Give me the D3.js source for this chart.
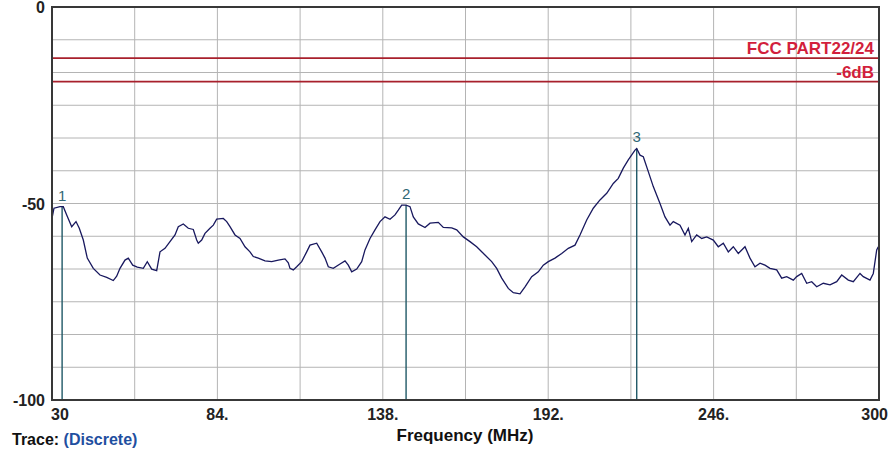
<!DOCTYPE html>
<html><head><meta charset="utf-8">
<script src="https://cdn.jsdelivr.net/npm/d3@7"></script>
<style>html,body{margin:0;padding:0;background:#fff;overflow:hidden}</style>
</head><body>
<svg id="c" width="894" height="449"></svg>
<script>
const freqMHz = [30.0,30.65,32.61,33.69,34.80,36.43,37.84,38.91,40.22,41.52,43.48,45.67,47.86,50.01,51.12,52.20,53.83,54.91,56.35,57.85,59.81,61.11,62.55,64.18,65.26,66.89,68.52,70.16,71.23,72.87,74.50,76.13,77.24,77.76,78.87,79.95,81.58,82.66,83.77,85.93,87.04,88.11,89.75,91.38,93.01,94.64,95.72,97.35,99.54,101.73,103.88,106.07,107.15,107.70,108.78,109.89,111.52,113.15,114.23,116.42,118.05,119.13,120.21,121.84,124.03,125.66,126.74,127.85,129.48,131.11,132.19,133.82,135.45,137.09,138.72,140.35,141.98,143.06,144.17,145.6,146.88,147.96,149.59,151.78,153.41,156.12,157.75,160.50,162.13,164.28,166.47,168.65,171.36,173.55,175.18,176.82,178.97,180.61,182.79,184.43,186.61,188.77,190.40,192.03,194.22,196.41,198.56,200.75,202.38,204.57,206.72,208.91,211.10,213.25,214.88,216.52,218.15,220.34,220.89,221.97,223.05,224.68,226.31,228.50,230.13,231.76,232.84,235.03,236.66,237.74,238.85,240.48,242.12,243.75,245.90,247.53,249.17,250.80,252.43,254.06,256.25,257.88,259.51,261.15,262.78,264.41,266.60,268.23,269.86,272.02,273.13,274.76,276.40,278.03,279.66,281.82,284.01,286.19,287.82,289.98,291.61,293.80,294.87,297.06,298.14,299.25,299.78];
const levelDBm = [-53.8,-51.2,-50.8,-50.8,-52.9,-55.9,-54.6,-56.3,-59.3,-63.9,-66.5,-68.2,-68.8,-69.6,-68.5,-66.5,-64.4,-63.9,-65.7,-66.2,-66.5,-64.8,-66.7,-67.1,-62.3,-61.4,-59.7,-58.0,-55.9,-55.2,-56.3,-56.6,-59.3,-60.1,-59.3,-57.6,-56.3,-55.5,-54.0,-53.8,-54.6,-55.9,-58.0,-58.9,-61.0,-62.3,-63.5,-63.9,-64.6,-64.8,-64.4,-64.1,-65.1,-66.5,-66.9,-66.1,-64.8,-62.3,-60.6,-60.1,-62.3,-63.9,-66.1,-66.5,-65.4,-64.6,-65.7,-67.4,-66.7,-64.8,-61.8,-58.9,-56.7,-54.6,-53.4,-54.0,-52.9,-51.7,-50.4,-50.4,-50.8,-53.4,-55.2,-56.1,-55.0,-54.8,-56.1,-56.2,-56.7,-58.5,-59.7,-61.0,-63.1,-64.8,-66.5,-69.0,-71.6,-72.7,-73.0,-71.2,-68.6,-67.4,-65.7,-64.8,-63.9,-62.7,-61.4,-60.6,-58.0,-54.2,-51.2,-49.1,-47.4,-44.9,-43.6,-41.0,-38.9,-36.4,-36.0,-37.7,-38.1,-41.9,-45.7,-50.0,-53.4,-55.5,-54.6,-55.5,-58.0,-56.3,-59.7,-58.0,-58.9,-58.5,-59.3,-61.0,-60.1,-62.3,-61.0,-62.7,-61.0,-63.9,-66.1,-65.2,-65.7,-66.5,-66.9,-69.0,-68.6,-69.5,-68.6,-67.8,-70.3,-69.9,-71.2,-70.3,-70.7,-69.9,-68.2,-69.5,-69.9,-67.8,-68.6,-69.5,-67.8,-61.8,-61.0];

const markerLabels = ["1","2","3"];
const markerFreq = [33.3,145.6,220.9];
const markerLevel = [-50.8,-50.4,-36.0];

const limitLevels = [-13,-19];
const limitLabels = ["FCC PART22/24","-6dB"];

const xTickValues = [30,84,138,192,246,300];
const xTickLabels = ["30","84.","138.","192.","246.","300"];
const yTickValues = [0,-50,-100];
const yTickLabels = ["0","-50","-100"];
const xTitle = "Frequency (MHz)";

const svg = d3.select("#c");
const L=52,R=879,T=7,B=400;
const x = d3.scaleLinear().domain([30,300]).range([L,R]);
const y = d3.scaleLinear().domain([-100,0]).range([B,T]);
const font="Liberation Sans, Arial, sans-serif";

// grid
const g = svg.append("g");
g.selectAll("line.vg").data(d3.range(0,11).map(i=>30+i*27)).enter().append("line")
  .attr("x1",d=>x(d)).attr("x2",d=>x(d)).attr("y1",T).attr("y2",B)
  .attr("stroke","#b4b4b4").attr("stroke-width",1);
g.selectAll("line.hg").data(d3.range(0,13).map(i=>-100+i*100/12)).enter().append("line")
  .attr("x1",L).attr("x2",R).attr("y1",d=>y(d)).attr("y2",d=>y(d))
  .attr("stroke","#b4b4b4").attr("stroke-width",1);

// limit lines
svg.selectAll("line.lim").data(limitLevels).enter().append("line")
  .attr("x1",L).attr("x2",R).attr("y1",d=>y(d)).attr("y2",d=>y(d))
  .attr("stroke","#a8202c").attr("stroke-width",1.6);
svg.selectAll("text.lim").data(limitLabels).enter().append("text")
  .attr("x",874).attr("y",(d,i)=>y(limitLevels[i])-4)
  .attr("text-anchor","end").attr("font-family",font)
  .attr("font-weight","bold").attr("font-size",17).attr("fill","#d21f3c").text(d=>d);

// markers
svg.selectAll("line.mk").data(markerFreq).enter().append("line")
  .attr("x1",d=>x(d)).attr("x2",d=>x(d)).attr("y1",(d,i)=>y(markerLevel[i])).attr("y2",B)
  .attr("stroke","#1f5866").attr("stroke-width",1.4);
svg.selectAll("text.mk").data(markerLabels).enter().append("text")
  .attr("x",(d,i)=>x(markerFreq[i])).attr("y",(d,i)=>y(markerLevel[i])-6)
  .attr("text-anchor","middle").attr("font-family",font)
  .attr("font-size",15).attr("fill","#2f6775").text(d=>d);

// trace
const pts = freqMHz.map((f,i)=>[f,levelDBm[i]]);
svg.append("path").datum(pts)
  .attr("d",d3.line().x(d=>x(d[0])).y(d=>y(d[1])))
  .attr("fill","none").attr("stroke","#18185e").attr("stroke-width",1.3);

// border
svg.append("rect").attr("x",L).attr("y",T).attr("width",R-L).attr("height",B-T)
  .attr("fill","none").attr("stroke","#383838").attr("stroke-width",2);

// axis labels
svg.selectAll("text.yt").data(yTickValues).enter().append("text")
  .attr("x",45).attr("y",(d,i)=>y(d)+6)
  .attr("text-anchor","end").attr("font-family",font).attr("font-weight","bold")
  .attr("font-size",16).attr("fill","#222").text((d,i)=>yTickLabels[i]);
svg.selectAll("text.xt").data(xTickValues).enter().append("text")
  .attr("x",(d,i)=> i===0 ? x(d)-1 : (i===xTickValues.length-1 ? x(d)+9 : x(d)))
  .attr("y",420)
  .attr("text-anchor",(d,i)=> i===0?"start":(i===xTickValues.length-1?"end":"middle"))
  .attr("font-family",font).attr("font-weight","bold")
  .attr("font-size",16).attr("fill","#222").text((d,i)=>xTickLabels[i]);
svg.append("text").attr("x",465).attr("y",441).attr("text-anchor","middle")
  .attr("font-family",font).attr("font-weight","bold").attr("font-size",17).attr("fill","#111").text(xTitle);
const tr = svg.append("text").attr("x",12).attr("y",445).attr("font-family",font)
  .attr("font-weight","bold").attr("font-size",16);
tr.append("tspan").attr("fill","#111").text("Trace: ");
tr.append("tspan").attr("fill","#1f4fa0").text("(Discrete)");
</script>
</body></html>
